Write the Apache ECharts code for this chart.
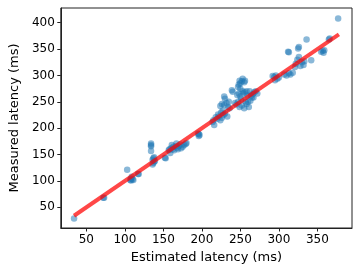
<!DOCTYPE html>
<html><head><meta charset="utf-8">
<script src="https://cdn.jsdelivr.net/npm/echarts@6/dist/echarts.min.js"></script>
<style>html,body{margin:0;padding:0;background:#fff}#c{width:360px;height:270px}</style>
</head><body><div id="c"></div>
<script>
const estimated = [34,72,73,103,107,108,110,111,109,117,118,134,134,134,134,136,137,137,138,136,138,153,152,157,158,159,160,161,163,164,166,167,168,170,172,173,175,177,179,180,196,196,197,195,214,216,215,220,222,224,226,228,230,233,225,224,226,229,232,235,234,236,229,230,240,239,245,247,249,252,255,258,260,261,263,265,247,248,250,249,252,253,250,246,248,250,254,256,258,262,255,256,264,266,268,270,272,294,296,295,298,300,292,307,310,313,315,318,312,313,325,326,321,322,324,326,328,330,332,333,336,342,355,357,359,358,365,366,377,243,251,259,267,253,257,227,221,218,169,162,139,108];
const measured = [29,68,68,121,102,101,103,102,108,113,113,171,168,166,157,140,143,134,137,131,145,143,144,158,160,153,162,168,165,158,166,171,163,166,169,162,165,168,170,172,189,185,187,190,212,206,215,218,222,215,220,225,228,222,230,242,246,244,248,250,240,238,260,256,269,272,245,250,240,243,238,246,250,240,252,258,278,283,285,290,289,294,275,263,266,260,266,268,270,270,287,290,262,265,268,270,266,297,300,291,294,296,299,302,300,304,302,305,345,344,351,354,316,322,330,335,318,325,320,327,368,329,345,347,348,343,368,370,408,248,255,262,258,270,250,233,226,221,160,160,138,104];
const xTicks = [50,100,150,200,250,300,350];
const yTicks = [50,100,150,200,250,300,350,400];
const lineX = [34,378];

const pts = estimated.map((e,i)=>[e,measured[i]]);
const linePts = lineX.map(v=>[v,v]);
const chart = echarts.init(document.getElementById('c'));
const font = 'DejaVu Sans';
chart.setOption({
  animation:false,
  grid:{left:52,right:8,top:8,bottom:42,show:true,borderColor:'#222',borderWidth:1,backgroundColor:'transparent'},
  xAxis:{type:'value',min:16.8,max:395,
    name:'Estimated latency (ms)',nameLocation:'middle',nameGap:18,
    nameTextStyle:{fontFamily:font,fontSize:13,color:'#000'},
    axisLine:{show:true,lineStyle:{color:'#222'}},
    splitLine:{show:false},
    axisTick:{show:true,length:3.5,lineStyle:{color:'#222'},customValues:xTicks},
    axisLabel:{fontFamily:font,fontSize:12,color:'#000',margin:6,customValues:xTicks}},
  yAxis:{type:'value',min:10.8,max:427.9,
    name:'Measured latency (ms)',nameLocation:'middle',nameGap:35,
    nameTextStyle:{fontFamily:font,fontSize:13,color:'#000'},
    axisLine:{show:true,lineStyle:{color:'#222'}},
    splitLine:{show:false},
    axisTick:{show:true,length:3.5,lineStyle:{color:'#222'},customValues:yTicks},
    axisLabel:{fontFamily:font,fontSize:12,color:'#000',margin:6,customValues:yTicks}},
  series:[
    {type:'scatter',data:pts,symbolSize:6.5,itemStyle:{color:'rgba(31,119,180,0.65)'},z:2},
    {type:'line',data:linePts,symbol:'none',lineStyle:{color:'rgba(255,0,0,0.72)',width:4},z:3}
  ]
});
</script></body></html>
